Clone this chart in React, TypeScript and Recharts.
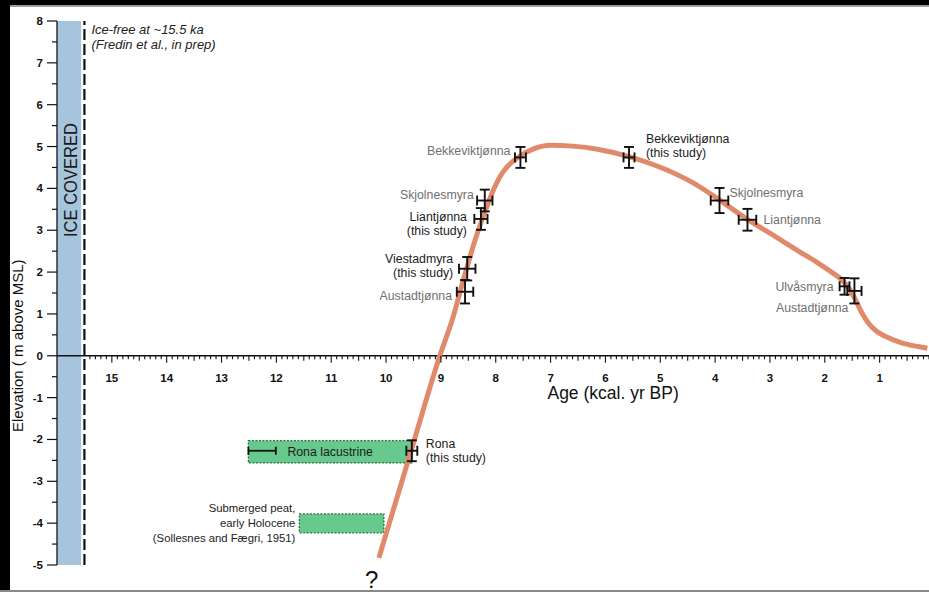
import React from 'react';
import {
  ComposedChart,
  XAxis,
  YAxis,
  Line,
  Scatter,
  ErrorBar,
  ReferenceArea,
  ReferenceLine,
  ReferenceDot,
} from 'recharts';

const W = 929;
const H = 592;
const FONT = '"Liberation Sans", Arial, Helvetica, sans-serif';
const DARK = '#1c1c1c';
const GREY = '#707070';

// Axis ranges (age in kcal. yr BP, elevation in m above MSL)
const AGE_OLDEST = 16;
const AGE_YOUNGEST = 0.13;
const ELEV_MIN = -5;
const ELEV_MAX = 8;

// Relative sea-level curve
const CURVE_AGE = [
  10.13, 9.94, 9.55, 9.02, 8.76, 8.63, 8.49, 8.36, 8.21, 8.07, 7.89, 7.58, 7.3, 7.0, 6.6, 6.12,
  5.57, 4.9, 4.4, 3.93, 3.39, 2.9, 2.48, 2.15, 1.88, 1.68, 1.55, 1.45, 1.33, 1.2, 1.05, 0.89, 0.6, 0.3, 0.13,
];
const CURVE_ELEV = [
  -4.83, -4.0, -2.3, 0, 1.0, 1.63, 2.27, 2.83, 3.4, 3.88, 4.35, 4.75, 4.95, 5.03, 5.01, 4.93,
  4.76, 4.45, 4.13, 3.73, 3.24, 2.85, 2.5, 2.24, 2.0, 1.8, 1.6, 1.36, 1.04, 0.77, 0.58, 0.46, 0.31, 0.22, 0.18,
];
const CURVE = CURVE_AGE.map((age, i) => ({ age, elev: CURVE_ELEV[i] }));

// Dated sea-level index points
const SITES = [
  { id: 'bekkL', lines: ['Bekkeviktjønna'], age: 7.55, elev: 4.74, ageErr: 0.1, elevErr: 0.25, thisStudy: false },
  { id: 'skjolL', lines: ['Skjolnesmyra'], age: 8.2, elev: 3.71, ageErr: 0.14, elevErr: 0.26, thisStudy: false },
  { id: 'lianL', lines: ['Liantjønna', '(this study)'], age: 8.27, elev: 3.27, ageErr: 0.12, elevErr: 0.26, thisStudy: true },
  { id: 'viest', lines: ['Viestadmyra', '(this study)'], age: 8.52, elev: 2.08, ageErr: 0.15, elevErr: 0.28, thisStudy: true },
  { id: 'austL', lines: ['Austadtjønna'], age: 8.56, elev: 1.53, ageErr: 0.15, elevErr: 0.28, thisStudy: false },
  { id: 'bekkR', lines: ['Bekkeviktjønna', '(this study)'], age: 5.57, elev: 4.74, ageErr: 0.1, elevErr: 0.25, thisStudy: true },
  { id: 'skjolR', lines: ['Skjolnesmyra'], age: 3.92, elev: 3.71, ageErr: 0.16, elevErr: 0.3, thisStudy: false },
  { id: 'lianR', lines: ['Liantjønna'], age: 3.41, elev: 3.25, ageErr: 0.16, elevErr: 0.26, thisStudy: false },
  { id: 'ulv', lines: ['Ulvåsmyra'], age: 1.64, elev: 1.66, ageErr: 0.09, elevErr: 0.2, thisStudy: false },
  { id: 'austR', lines: ['Austadtjønna'], age: 1.46, elev: 1.55, ageErr: 0.13, elevErr: 0.3, thisStudy: false },
  { id: 'rona', lines: ['Rona', '(this study)'], age: 9.53, elev: -2.27, ageErr: 0.1, elevErr: 0.25, thisStudy: true },
];

// Age range inside the Rona lacustrine unit
const RONA_LACUSTRINE_RANGE = [{ age: 12.26, elev: -2.27, ageErr: 0.25 }];

// Boxes: Rona lacustrine sediments and submerged peat
const RONA_BOX = { ageOld: 12.51, ageYoung: 9.53, elevLow: -2.56, elevHigh: -2.03 };
const PEAT_BOX = { ageOld: 11.58, ageYoung: 10.04, elevLow: -4.23, elevHigh: -3.78 };
const PEAT_LINES = ['Submerged peat,', 'early Holocene', '(Sollesnes and Fægri, 1951)'];

// Ice cover until deglaciation
const ICE_FREE_AGE = 15.5;
const ICE_FREE_LINES = ['Ice-free at ~15.5 ka', '(Fredin et al., in prep)'];

// Axis ticks
const X_TICK_LABELS = [15, 14, 13, 12, 11, 10, 9, 8, 7, 6, 5, 4, 3, 2, 1];
const X_TICKS = Array.from({ length: 154 }, (_, i) => ({ age: Math.round((15.4 - i * 0.1) * 10) / 10, elev: 0 }));
const Y_TICK_LABELS = [-5, -4, -3, -2, -1, 0, 1, 2, 3, 4, 5, 6, 7, 8];
const Y_TICKS = Array.from({ length: 27 }, (_, i) => ({ age: AGE_OLDEST, elev: ELEV_MIN + i * 0.5 }));

// Label placement around each index point (pixels)
const LABEL_LAYOUT: Record<string, { dx: number; dy: number; anchor: 'start' | 'end' }> = {
  bekkL: { dx: -10, dy: -7, anchor: 'end' },
  skjolL: { dx: -11, dy: -6, anchor: 'end' },
  lianL: { dx: -14, dy: -2, anchor: 'end' },
  viest: { dx: -14, dy: -10, anchor: 'end' },
  austL: { dx: -13, dy: 4, anchor: 'end' },
  bekkR: { dx: 17, dy: -19, anchor: 'start' },
  skjolR: { dx: 10, dy: -8, anchor: 'start' },
  lianR: { dx: 16, dy: 0, anchor: 'start' },
  ulv: { dx: -11, dy: 0, anchor: 'end' },
  austR: { dx: -6, dy: 17, anchor: 'end' },
  rona: { dx: 14, dy: -7, anchor: 'start' },
};

const Nothing = () => <g />;

const XTick = (props: any) => {
  const { cx, cy, payload } = props;
  const a = payload.age;
  const isMajor = Math.abs(a - Math.round(a)) < 1e-6;
  const isHalf = !isMajor && Math.abs(a * 2 - Math.round(a * 2)) < 1e-6;
  const len = isMajor ? 7 : isHalf ? 5 : 3.5;
  const showLabel = isMajor && X_TICK_LABELS.includes(Math.round(a));
  return (
    <g>
      <line x1={cx} x2={cx} y1={cy} y2={cy + len} stroke="#111" strokeWidth={1.1} />
      {showLabel && (
        <text x={cx} y={cy + 26} textAnchor="middle" fontSize={11.5} fontWeight="bold" fill="#111" fontFamily={FONT}>
          {Math.round(a)}
        </text>
      )}
    </g>
  );
};

const YTick = (props: any) => {
  const { cx, cy, payload } = props;
  const v = payload.elev;
  const isMajor = Math.abs(v - Math.round(v)) < 1e-6;
  const len = isMajor ? 10 : 5;
  const showLabel = isMajor && Y_TICK_LABELS.includes(Math.round(v));
  return (
    <g>
      <line x1={cx - len} x2={cx} y1={cy} y2={cy} stroke="#111" strokeWidth={1.2} />
      {showLabel && (
        <text x={cx - 14} y={cy + 4} textAnchor="end" fontSize={11.5} fontWeight="bold" fill="#111" fontFamily={FONT}>
          {Math.round(v)}
        </text>
      )}
    </g>
  );
};

const SiteLabel = (props: any) => {
  const { cx, cy, payload } = props;
  const lay = LABEL_LAYOUT[payload.id];
  const fill = payload.thisStudy ? DARK : GREY;
  return (
    <g>
      {payload.lines.map((line: string, i: number) => (
        <text
          key={i}
          x={cx + lay.dx}
          y={cy + lay.dy + 4.3 + i * 14}
          textAnchor={lay.anchor}
          fontSize={12.3}
          fill={fill}
          fontFamily={FONT}
        >
          {line}
        </text>
      ))}
    </g>
  );
};

const centerOf = (vb: any) => ({ x: vb.x + (vb.width || 0) / 2, y: vb.y + (vb.height || 0) / 2 });

export default function App() {
  return (
    <div
      style={{
        position: 'absolute',
        left: 0,
        top: 0,
        width: W,
        height: H,
        background: '#fff',
        overflow: 'hidden',
      }}
    >
      <ComposedChart width={W} height={H} margin={{ top: 21, right: 0, bottom: 27, left: 57 }}>
        <XAxis dataKey="age" type="number" domain={[AGE_YOUNGEST, AGE_OLDEST]} reversed hide />
        <YAxis type="number" domain={[ELEV_MIN, ELEV_MAX]} hide />

        {/* ice-covered period */}
        <ReferenceArea
          x1={AGE_OLDEST}
          x2={15.56}
          y1={ELEV_MIN}
          y2={ELEV_MAX}
          fill="#a6c5dc"
          fillOpacity={1}
          stroke="none"
        />
        <ReferenceLine
          x={ICE_FREE_AGE}
          stroke="#111"
          strokeWidth={2.2}
          strokeDasharray="11 4"
          label={(p: any) => (
            <g fontFamily={FONT} fontStyle="italic" fontSize={13} fill="#222">
              {ICE_FREE_LINES.map((t, i) => (
                <text key={i} x={p.viewBox.x + 7} y={p.viewBox.y + 13 + i * 15}>
                  {t}
                </text>
              ))}
            </g>
          )}
        />
        <ReferenceDot
          x={15.745}
          y={4.2}
          r={1}
          fill="none"
          stroke="none"
          label={(p: any) => {
            const c = centerOf(p.viewBox);
            return (
              <text
                x={c.x}
                y={c.y}
                transform={`rotate(-90 ${c.x} ${c.y})`}
                textAnchor="middle"
                dy={6.5}
                fontSize={19}
                textLength={114}
                lengthAdjust="spacingAndGlyphs"
                fill="#1a1a1a"
                fontFamily={FONT}
              >
                ICE COVERED
              </text>
            );
          }}
        />

        {/* axes */}
        <ReferenceLine x={AGE_OLDEST} stroke="#111" strokeWidth={1.3} />
        <ReferenceLine y={0} stroke="#111" strokeWidth={1.3} />
        <Scatter data={X_TICKS} dataKey="elev" shape={XTick} isAnimationActive={false} />
        <Scatter data={Y_TICKS} dataKey="elev" shape={YTick} isAnimationActive={false} />

        {/* lacustrine and peat boxes */}
        <ReferenceArea
          x1={RONA_BOX.ageOld}
          x2={RONA_BOX.ageYoung}
          y1={RONA_BOX.elevLow}
          y2={RONA_BOX.elevHigh}
          fill="#67c98d"
          fillOpacity={1}
          stroke="#2e6b3d"
          strokeWidth={1.3}
          strokeDasharray="2 1.5"
          label={(p: any) => {
            const c = centerOf(p.viewBox);
            return (
              <text x={c.x} y={c.y + 4.3} textAnchor="middle" fontSize={12.3} fill="#1c1c1c" fontFamily={FONT}>
                Rona lacustrine
              </text>
            );
          }}
        />
        <ReferenceArea
          x1={PEAT_BOX.ageOld}
          x2={PEAT_BOX.ageYoung}
          y1={PEAT_BOX.elevLow}
          y2={PEAT_BOX.elevHigh}
          fill="#67c98d"
          fillOpacity={1}
          stroke="#2e6b3d"
          strokeWidth={1.3}
          strokeDasharray="2 1.5"
          label={(p: any) => {
            const c = centerOf(p.viewBox);
            return (
              <g fontFamily={FONT} fontSize={11.3} fill="#1c1c1c">
                {PEAT_LINES.map((t, i) => (
                  <text key={i} x={p.viewBox.x - 4} y={c.y + 4 + (i - 1) * 15} textAnchor="end">
                    {t}
                  </text>
                ))}
              </g>
            );
          }}
        />

        {/* sea-level curve */}
        <Line
          data={CURVE}
          dataKey="elev"
          type="monotone"
          stroke="#e08a6b"
          strokeWidth={5}
          dot={false}
          activeDot={false}
          isAnimationActive={false}
        />

        {/* index points with age and elevation uncertainty */}
        <Scatter data={RONA_LACUSTRINE_RANGE} dataKey="elev" shape={Nothing} isAnimationActive={false}>
          <ErrorBar dataKey="ageErr" direction="x" width={4} stroke="#111" strokeWidth={1.8} />
        </Scatter>
        <Scatter data={SITES} dataKey="elev" shape={Nothing} isAnimationActive={false}>
          <ErrorBar dataKey="elevErr" direction="y" width={5} stroke="#111" strokeWidth={1.9} />
          <ErrorBar dataKey="ageErr" direction="x" width={5} stroke="#111" strokeWidth={1.9} />
        </Scatter>
        <Scatter data={SITES} dataKey="elev" shape={SiteLabel} isAnimationActive={false} />

        {/* axis titles and open end of the curve */}
        <ReferenceDot
          x={5.86}
          y={-0.9}
          r={1}
          fill="none"
          stroke="none"
          label={(p: any) => {
            const c = centerOf(p.viewBox);
            return (
              <text x={c.x} y={c.y + 6} textAnchor="middle" fontSize={17.5} fill="#111" fontFamily={FONT}>
                Age (kcal. yr BP)
              </text>
            );
          }}
        />
        <ReferenceDot
          x={16.71}
          y={0.24}
          r={1}
          fill="none"
          stroke="none"
          ifOverflow="visible"
          label={(p: any) => {
            const c = centerOf(p.viewBox);
            return (
              <text
                x={c.x}
                y={c.y}
                dy={5}
                transform={`rotate(-90 ${c.x} ${c.y})`}
                textAnchor="middle"
                fontSize={15}
                fill="#111"
                fontFamily={FONT}
              >
                Elevation ( m above MSL)
              </text>
            );
          }}
        />
        <ReferenceDot
          x={10.26}
          y={ELEV_MIN}
          r={1}
          fill="none"
          stroke="none"
          ifOverflow="visible"
          label={(p: any) => {
            const c = centerOf(p.viewBox);
            return (
              <text x={c.x} y={c.y + 23} textAnchor="middle" fontSize={24} fill="#111" fontFamily={FONT}>
                ?
              </text>
            );
          }}
        />
      </ComposedChart>

      {/* page frame */}
      <div style={{ position: 'absolute', left: 0, top: 0, width: W, height: 5, background: '#000' }} />
      <div style={{ position: 'absolute', left: 0, top: 5, width: W, height: 1.5, background: '#9a9a9a' }} />
      <div style={{ position: 'absolute', left: 0, top: 0, width: 10, height: H, background: '#000' }} />
      <div style={{ position: 'absolute', left: 0, top: H - 2, width: W, height: 2, background: '#8a8a8a' }} />
    </div>
  );
}
